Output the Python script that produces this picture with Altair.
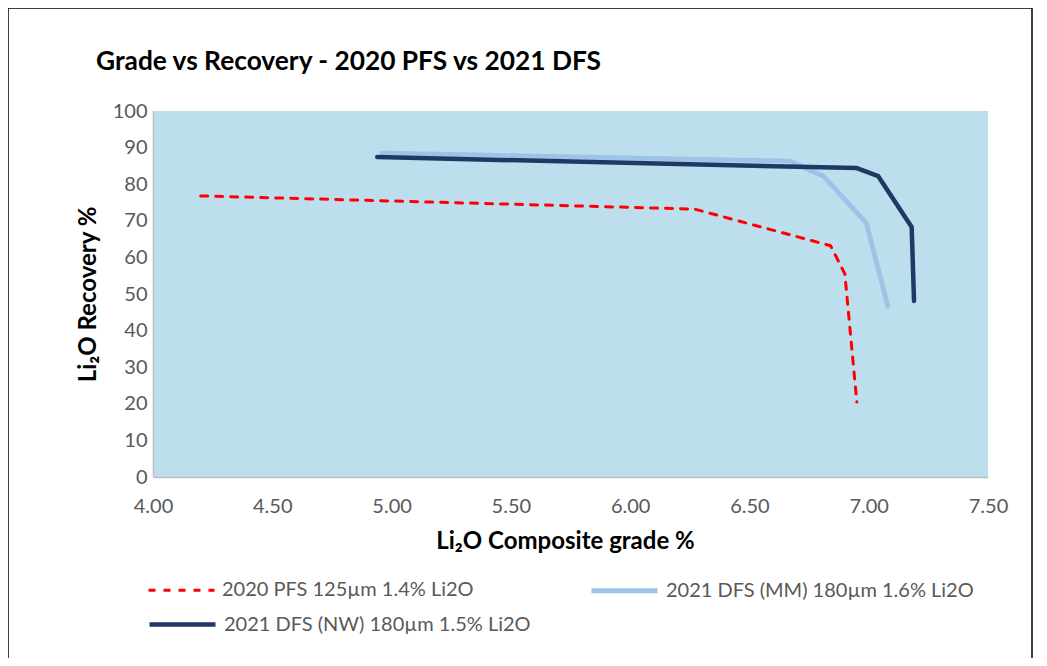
import altair as alt
import pandas as pd

series_names = [
    "2020 PFS 125µm 1.4% Li2O",
    "2021 DFS (MM) 180µm 1.6% Li2O",
    "2021 DFS (NW) 180µm 1.5% Li2O",
]
pfs_grade = [4.20, 6.27, 6.84, 6.90, 6.95]
pfs_rec = [76.8, 73.2, 63.2, 55.5, 20.5]
mm_grade = [4.96, 6.67, 6.81, 6.99, 7.08]
mm_rec = [88.5, 86.3, 82.2, 69.4, 46.7]
nw_grade = [4.94, 6.95, 7.04, 7.18, 7.19]
nw_rec = [87.4, 84.4, 82.2, 68.3, 48.1]

x_ticks = [4.0, 4.5, 5.0, 5.5, 6.0, 6.5, 7.0, 7.5]
y_ticks = [0, 10, 20, 30, 40, 50, 60, 70, 80, 90, 100]

chart_title = "Grade vs Recovery - 2020 PFS vs 2021 DFS"

series_colors = ["#FF0000", "#9DC3E6", "#203864"]
series_dash = [[7, 8], [1, 0], [1, 0]]
series_width = [3, 4.8, 4.5]

rows = []
for name, gx, ry in zip(series_names, [pfs_grade, mm_grade, nw_grade], [pfs_rec, mm_rec, nw_rec]):
    for i, (g, r) in enumerate(zip(gx, ry)):
        rows.append({"series": name, "grade": g, "rec": r, "idx": i})
df = pd.DataFrame(rows)
df_a = df[df["series"].isin(series_names[:2])]
df_b = df[df["series"] == series_names[2]]

FONT = "Lato"
W, H = 835, 366
SYM = 66 * 66

leg_common = dict(
    title=None, orient="none", legendX=-6, direction="horizontal",
    symbolType="stroke", symbolSize=SYM, labelFont=FONT, labelFontSize=20,
    labelColor="#595959", labelOffset=6, labelLimit=0,
)
leg_a = alt.Legend(legendY=444, columnPadding=107, **leg_common)
leg_b = alt.Legend(legendY=478, symbolStrokeWidth=series_width[2], **leg_common)

x_enc = alt.X("grade:Q", scale=alt.Scale(domain=[4, 7.5], nice=False, zero=False),
              axis=alt.Axis(values=x_ticks, format=".2f", title="Li₂O Composite grade %",
                            titleX=412, titleY=71, titleBaseline="alphabetic",
                            titleAlign="center", labelPadding=19, labelFlush=False))
y_enc = alt.Y("rec:Q", scale=alt.Scale(domain=[0, 100], nice=False),
              axis=alt.Axis(values=y_ticks, title="Li₂O Recovery %", titleX=-65,
                            titleY=183, titleAngle=-90, titleAlign="center",
                            titleBaseline="middle", labelPadding=6, labelFlush=False))

lines_a = alt.Chart(df_a).mark_line(strokeCap="round", strokeJoin="round").encode(
    x=x_enc, y=y_enc,
    color=alt.Color("series:N", scale=alt.Scale(domain=series_names[:2], range=series_colors[:2]), legend=leg_a),
    strokeDash=alt.StrokeDash("series:N", scale=alt.Scale(domain=series_names[:2], range=series_dash[:2]), legend=leg_a),
    strokeWidth=alt.StrokeWidth("series:N", scale=alt.Scale(domain=series_names[:2], range=series_width[:2]), legend=leg_a),
    order=alt.Order("idx:Q"),
)

lines_b = alt.Chart(df_b).mark_line(strokeCap="round", strokeJoin="round", strokeWidth=series_width[2]).encode(
    x=x_enc, y=y_enc,
    stroke=alt.Stroke("series:N", scale=alt.Scale(domain=series_names[2:], range=series_colors[2:]), legend=leg_b),
    order=alt.Order("idx:Q"),
)

border = alt.Chart(alt.Data(values=[{}])).mark_rect(
    filled=False, stroke="#000000", strokeWidth=1.5
).encode(
    x=alt.value(-145), x2=alt.value(879), y=alt.value(-103), y2=alt.value(H + 220)
)

title_mark = alt.Chart(alt.Data(values=[{"t": chart_title}])).mark_text(
    font=FONT, fontSize=26.3, fontWeight="bold", color="#000000",
    align="left", baseline="alphabetic"
).encode(
    x=alt.value(-57), y=alt.value(-41), text="t:N"
)

chart = alt.layer(border, title_mark, lines_a, lines_b).properties(
    width=W, height=H,
    autosize=alt.AutoSizeParams(type="none"),
    padding={"left": 145, "top": 103, "right": 51, "bottom": 181},
).configure_view(
    fill="#BDDEEC", stroke=None
).configure_axis(
    labelFont=FONT, labelFontSize=20, labelColor="#595959", ticks=False, grid=False,
    domainColor="#BFBFBF", domainWidth=1.5, titleFont=FONT, titleFontSize=24,
    titleFontWeight="bold", titleColor="#000000",
)

chart.save("out.html", embed_options={"renderer": "svg", "actions": False})
